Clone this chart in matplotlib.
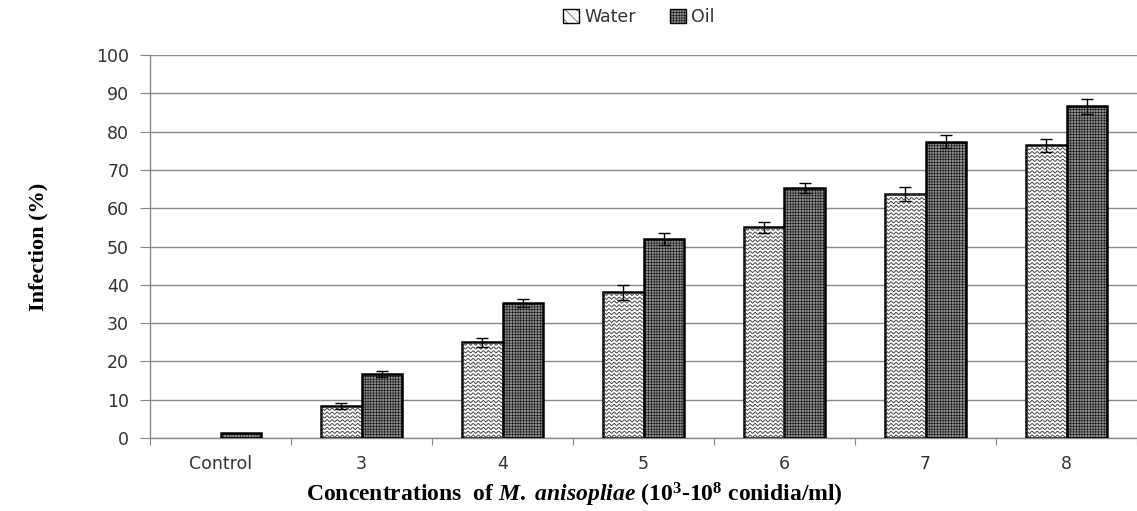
import numpy as np
import matplotlib
matplotlib.use("Agg")
import matplotlib.pyplot as plt
from matplotlib.patches import Patch

categories = ["Control", "3", "4", "5", "6", "7", "8"]
water = [0.0, 8.3, 25.0, 38.0, 55.0, 63.7, 76.4]
water_err = [0.0, 0.8, 1.2, 2.0, 1.5, 1.9, 1.7]
oil = [1.2, 16.8, 35.2, 52.0, 65.2, 77.4, 86.6]
oil_err = [0.0, 0.8, 1.0, 1.5, 1.3, 1.8, 1.9]
yticks = [0, 10, 20, 30, 40, 50, 60, 70, 80, 90, 100]

plt.rcParams['mathtext.fontset'] = 'custom'
plt.rcParams['mathtext.rm'] = 'Liberation Serif:bold'
plt.rcParams['mathtext.bf'] = 'Liberation Serif:bold'
plt.rcParams['mathtext.it'] = 'Liberation Serif:bold:italic'
plt.rcParams['hatch.linewidth'] = 0.35
plt.rcParams['hatch.color'] = '#404040'

fig = plt.figure(figsize=(11.37, 5.11), dpi=100)
ax = fig.add_axes([150/1137, 1-438/511, 987/1137, (438-55)/511])

x = np.arange(len(categories))
w = 0.29
wb = ax.bar(x - w/2, water, w, facecolor='white', edgecolor='black',
            linewidth=[1.8 if v > 0 else 0 for v in water], zorder=3)
ob = ax.bar(x + w/2, oil, w, facecolor='#8c8c8c', edgecolor='black', linewidth=1.8,
            hatch='++++++', zorder=3)

# wavy texture inside water bars (derived from bar geometry, clipped to bar)
for p in wb:
    x0, y0 = p.get_x(), p.get_y()
    bw, bh = p.get_width(), p.get_height()
    if bh <= 0:
        continue
    xs = np.linspace(x0, x0 + bw, 240)
    for yy in np.arange(y0 + 0.5, y0 + bh, 1.0):
        ln, = ax.plot(xs, yy + 0.28*np.sin((xs - x0) / bw * 2*np.pi*8), color='#444444',
                      lw=0.7, zorder=3.5)
        ln.set_clip_path(p)

xw = np.array([xi - w/2 for xi, e in zip(x, water_err) if e > 0])
xo = np.array([xi + w/2 for xi, e in zip(x, oil_err) if e > 0])
ax.errorbar(xw, [v for v, e in zip(water, water_err) if e > 0],
            yerr=[e for e in water_err if e > 0], fmt='none', ecolor='black',
            elinewidth=1, capsize=4, capthick=1, zorder=5)
ax.errorbar(xo, [v for v, e in zip(oil, oil_err) if e > 0],
            yerr=[e for e in oil_err if e > 0], fmt='none', ecolor='black',
            elinewidth=1, capsize=4, capthick=1, zorder=5)

ax.set_xlim(-0.5, len(categories) - 0.5)
ax.set_ylim(0, 100)
ax.set_yticks(yticks)
ax.set_yticklabels([str(t) for t in yticks], fontsize=12.5, color='#333333')
ax.set_xticks(np.arange(-0.5, len(categories)), minor=False)
ax.set_xticklabels([])
ax.set_xticks(x, minor=True)
ax.set_xticklabels(categories, minor=True, fontsize=12.5, color='#333333')
ax.tick_params(axis='x', which='minor', length=0, pad=12)
ax.tick_params(axis='x', which='major', length=5, color='#888888', direction='out')
ax.tick_params(axis='y', length=7, color='#888888', direction='out', pad=8)
ax.grid(axis='y', color='#8a8a8a', linewidth=1, zorder=0)
ax.set_axisbelow(True)
for s in ['top', 'right']:
    ax.spines[s].set_visible(False)
for s in ['left', 'bottom']:
    ax.spines[s].set_color('#888888')
    ax.spines[s].set_linewidth(1)

ax.set_ylabel('Infection (%)', fontsize=16, fontweight='bold', family='Liberation Serif')
ax.yaxis.set_label_coords(-102/987, 0.5)
ax.set_xlabel(r'Concentrations  of $\mathit{M.\ anisopliae}$ (10$^{3}$-10$^{8}$ conidia/ml)',
              fontsize=17, fontweight='bold', family='Liberation Serif')
ax.xaxis.set_label_coords(0.43, -43/383)

handles = [Patch(facecolor='white', edgecolor='black', hatch='\\\\\\', label='Water'),
           Patch(facecolor='#8c8c8c', edgecolor='black', hatch='++++++', label='Oil')]
fig.legend(handles=handles, loc='upper center', bbox_to_anchor=(0.562, 1.015), ncol=2,
           frameon=False, fontsize=12.5, handlelength=0.9, handleheight=0.9,
           handletextpad=0.3, columnspacing=2.0, labelcolor='#333333')

fig.savefig('out.png', dpi=100)
